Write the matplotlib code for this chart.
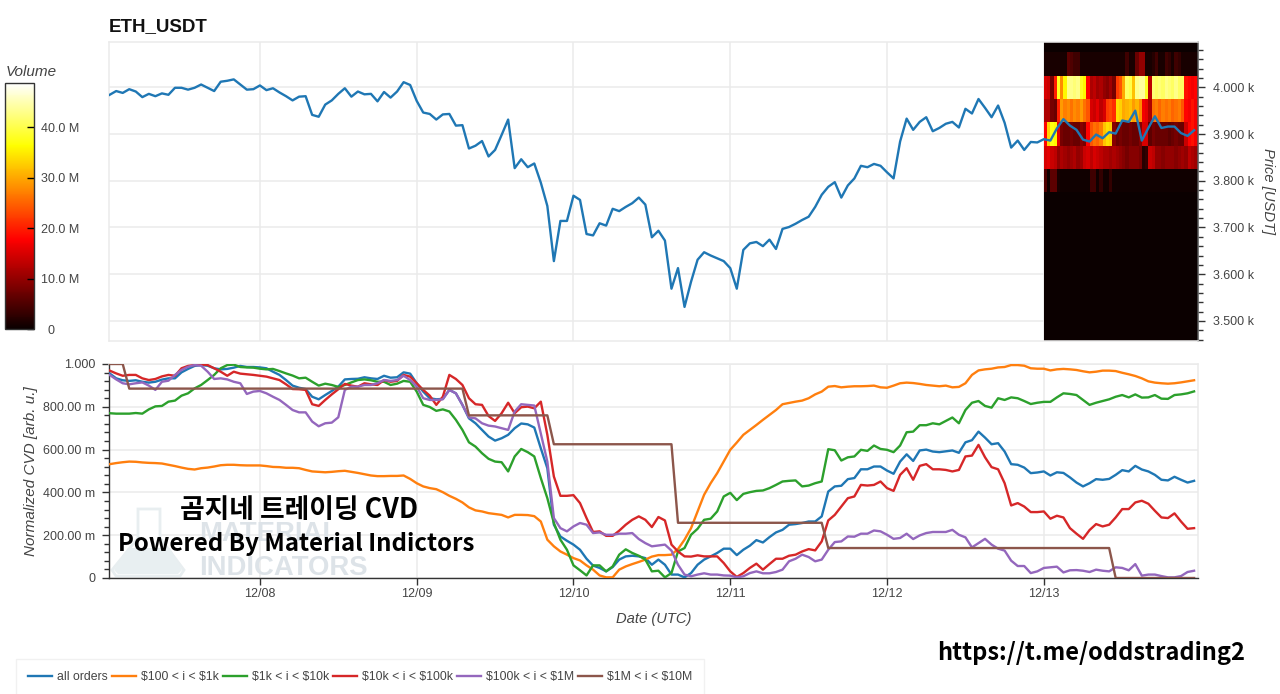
import numpy as np
import pandas as pd
import matplotlib
matplotlib.use('Agg')
import matplotlib.pyplot as plt
import matplotlib.dates as mdates
from matplotlib.patches import Polygon
from matplotlib.ticker import FixedLocator, FuncFormatter, MultipleLocator

plt.rcParams['font.family'] = ['Liberation Sans', 'DejaVu Sans']

# hourly samples, first one is 12/07 01:00
start = '2021-12-07 01:00'

price = [3984, 3992, 3988, 3996, 3991, 3979, 3986, 3981, 3987, 3984, 3999, 3999, 3995, 3999, 4006, 3999, 3992, 4012,
         4014, 4017, 4006, 3995, 3996, 4004, 3994, 3998, 3989, 3981, 3972, 3980, 3981, 3941, 3937, 3963, 3972, 3986,
         3998, 3980, 3991, 3985, 3986, 3970, 3990, 3978, 3991, 4011, 4005, 3971, 3946, 3943, 3931, 3942, 3943, 3918,
         3919, 3869, 3875, 3885, 3852, 3866, 3898, 3931, 3827, 3846, 3829, 3837, 3796, 3746, 3628, 3714, 3714,
         3768, 3759, 3686, 3683, 3709, 3704, 3740, 3735, 3744, 3752, 3764, 3749, 3679, 3693, 3672, 3569, 3613, 3530,
         3584, 3631, 3647, 3640, 3634, 3628, 3613, 3569, 3652, 3666, 3669, 3660, 3674, 3654, 3697, 3701, 3708, 3716,
         3723, 3744, 3770, 3787, 3797, 3764, 3790, 3805, 3832, 3829, 3836, 3832, 3818, 3805, 3884, 3933, 3909, 3926,
         3936, 3906, 3913, 3922, 3926, 3914, 3954, 3944, 3975, 3956, 3936, 3961, 3924, 3871, 3886, 3866, 3883, 3882,
         3889, 3886, 3912, 3932, 3918, 3909, 3888, 3884, 3899, 3891, 3904, 3901, 3929, 3926, 3950, 3886, 3913, 3938,
         3913, 3916, 3916, 3902, 3896, 3908]

all_orders = [.956, .933, .924, .921, .924, .917, .913, .917, .927, .933, .933, .961, .977, .991, .995, .992, .980,
              .975, .977, .983, .991, .986, .986, .984, .980, .964, .949, .925, .899, .889, .883, .847, .835, .855,
              .874, .894, .928, .930, .931, .938, .933, .930, .945, .936, .938, .961, .955, .910, .871, .840, .835,
              .837, .879, .863, .809, .746, .723, .692, .661, .642, .653, .669, .700, .722, .718, .703, .606, .513,
              .249, .194, .174, .156, .132, .090, .058, .047, .031, .051, .086, .101, .104, .101, .093, .062, .086,
              .062, .016, .016, .003, .023, .062, .086, .101, .117, .137, .137, .107, .132, .151, .177, .166, .191,
              .213, .225, .249, .252, .257, .264, .264, .288, .404, .428, .431, .462, .467, .508, .508, .521, .521,
              .502, .487, .544, .578, .547, .596, .600, .591, .588, .592, .596, .585, .634, .644, .684, .656, .625,
              .630, .591, .532, .529, .516, .490, .493, .498, .479, .494, .491, .470, .446, .428, .443, .462, .459,
              .463, .482, .504, .498, .524, .507, .498, .482, .459, .456, .473, .459, .446, .454]

tier_100_1k = [.532, .537, .541, .544, .543, .540, .538, .537, .535, .529, .523, .516, .510, .507, .513, .516, .521,
               .527, .529, .529, .527, .526, .526, .526, .523, .519, .518, .515, .515, .513, .505, .498, .496, .494,
               .496, .499, .501, .496, .491, .485, .479, .476, .476, .477, .477, .479, .463, .443, .428, .420, .415,
               .401, .384, .370, .353, .330, .316, .311, .303, .299, .295, .283, .295, .295, .294, .289, .264, .179,
               .148, .124, .109, .093, .082, .059, .039, .012, .003, .003, .039, .054, .065, .075, .086, .100, .107,
               .107, .109, .135, .179, .233, .311, .389, .443, .490, .544, .599, .633, .669, .692, .715, .739, .762,
               .785, .812, .818, .824, .829, .840, .858, .871, .894, .897, .891, .894, .896, .896, .897, .899, .891,
               .889, .899, .910, .913, .911, .907, .902, .899, .896, .899, .891, .893, .910, .949, .970, .975, .978,
               .984, .986, .995, .995, .992, .980, .978, .978, .970, .975, .977, .975, .972, .966, .961, .964, .969,
               .969, .967, .959, .952, .944, .933, .919, .913, .910, .908, .910, .914, .919, .924]

tier_1k_10k = [.770, .768, .768, .768, .771, .768, .788, .802, .804, .824, .829, .852, .863, .886, .902, .925, .949,
               .980, .995, .997, .986, .984, .983, .978, .975, .977, .967, .956, .946, .933, .936, .917, .899, .908,
               .902, .893, .902, .914, .925, .928, .924, .917, .917, .902, .908, .921, .917, .871, .809, .799, .781,
               .788, .778, .739, .692, .634, .614, .583, .557, .544, .541, .498, .568, .603, .588, .568, .467, .373,
               .257, .179, .132, .059, .036, .012, .059, .059, .031, .054, .109, .134, .117, .104, .086, .031, .034,
               .003, .023, .124, .140, .202, .230, .272, .277, .311, .381, .398, .364, .393, .401, .407, .409, .420,
               .435, .451, .454, .456, .428, .432, .443, .451, .602, .597, .549, .564, .568, .599, .594, .619, .603,
               .599, .588, .619, .681, .684, .714, .714, .723, .718, .734, .750, .723, .785, .819, .827, .804, .796,
               .840, .832, .844, .840, .827, .813, .819, .823, .823, .844, .863, .860, .855, .832, .809, .819, .827,
               .835, .847, .855, .844, .858, .843, .844, .855, .838, .837, .855, .858, .863, .872]

tier_10k_100k = [.969, .956, .945, .949, .949, .933, .925, .930, .942, .949, .945, .980, .991, .995, .998, .995, .980,
                 .964, .945, .964, .955, .952, .949, .945, .941, .933, .925, .905, .883, .882, .879, .812, .804, .832,
                 .858, .882, .907, .899, .894, .910, .905, .902, .925, .917, .921, .949, .941, .910, .879, .852, .809,
                 .847, .949, .930, .902, .840, .812, .809, .757, .734, .770, .819, .770, .798, .801, .793, .824, .669,
                 .474, .384, .384, .387, .350, .280, .215, .218, .197, .197, .221, .249, .272, .288, .272, .238, .285,
                 .269, .156, .124, .101, .100, .106, .101, .101, .101, .070, .031, .005, .023, .047, .067, .039, .065,
                 .090, .090, .104, .109, .124, .135, .129, .171, .269, .295, .334, .373, .381, .435, .432, .435, .451,
                 .420, .407, .482, .513, .459, .524, .532, .508, .508, .505, .498, .505, .568, .572, .622, .564, .518,
                 .508, .443, .339, .350, .334, .308, .308, .311, .277, .291, .283, .233, .207, .183, .224, .252, .241,
                 .249, .283, .322, .322, .353, .361, .347, .314, .283, .280, .302, .264, .230, .233]

tier_100k_1m = [.949, .928, .910, .905, .910, .914, .899, .879, .917, .922, .949, .972, .987, .995, .992, .964, .930,
                .933, .928, .917, .910, .860, .871, .874, .863, .847, .832, .809, .785, .774, .774, .731, .709, .723,
                .726, .751, .879, .894, .894, .902, .902, .910, .925, .921, .925, .945, .925, .894, .840, .832, .832,
                .835, .879, .863, .809, .750, .746, .723, .712, .708, .700, .692, .778, .812, .809, .806, .676, .544,
                .280, .233, .218, .241, .257, .249, .210, .213, .202, .202, .207, .207, .210, .182, .163, .148, .152,
                .156, .128, .062, .016, .008, .016, .022, .016, .016, .012, .011, .003, .008, .023, .031, .022, .022,
                .028, .039, .078, .090, .109, .098, .078, .086, .132, .168, .171, .194, .193, .207, .207, .222, .218,
                .202, .183, .187, .207, .182, .199, .210, .215, .215, .215, .225, .202, .190, .143, .163, .183, .156,
                .137, .128, .081, .056, .056, .023, .031, .047, .050, .053, .026, .036, .037, .034, .028, .039, .034,
                .031, .050, .047, .036, .065, .011, .016, .016, .009, .003, .003, .009, .028, .034]

# this tier moves in steps: hours since the start and the level at each corner
tier_1m_10m_hours = [0, 2, 3, 54, 55, 67, 68, 86, 87, 109, 110, 153, 154, 166]
tier_1m_10m = [1.0, 1.0, .885, .885, .76, .76, .625, .625, .258, .258, .14, .14, 0.0, 0.0]

series_labels = ['all orders', r'\$100 < i < \$1k', r'\$1k < i < \$10k', r'\$10k < i < \$100k',
                 r'\$100k < i < \$1M', r'\$1M < i < \$10M']
series_colors = ['#1f77b4', '#ff7f0e', '#2ca02c', '#d62728', '#9467bd', '#8c564b']

# order book volume in M, half hour columns from 12/13 00:00, 50 USDT price bins
vol_4050 = [1, 1, 1, 1, 1, 1, 1, 6, 5, 4, 4, 1, 1, 1, 1, 1, 1, 1, 1, 1, 1, 1, 1, 1, 1, 4, 1, 1, 7, 10, 10, 1, 1, 2, 4, 1,
            1, 4, 3, 1, 4, 3, 1, 1, 1, 1, 1, 1]
vol_4000 = [15, 14, 8, 20, 38, 28, 36, 43, 43, 42, 43, 38, 36, 18, 12, 13, 11, 12, 10, 9, 11, 8, 22, 24, 30, 41, 40, 32,
            43, 44, 44, 38, 13, 42, 41, 42, 41, 43, 42, 41, 43, 41, 41, 19, 18, 17, 18, 16]
vol_3950 = [12, 12, 8, 7, 20, 29, 27, 28, 26, 28, 27, 29, 26, 24, 15, 14, 16, 13, 15, 22, 23, 21, 34, 33, 30, 31, 32, 29,
            31, 28, 17, 16, 12, 26, 27, 25, 27, 26, 27, 25, 26, 27, 24, 18, 17, 19, 17, 18]
vol_3900 = [18, 33, 37, 36, 16, 8, 7, 7, 8, 7, 7, 9, 8, 18, 24, 26, 25, 27, 32, 34, 33, 9, 7, 8, 7, 7, 8, 7,
            7, 9, 15, 15, 6, 8, 7, 7, 7, 7, 6, 7, 8, 7, 7, 14, 18, 19, 17, 18]
vol_3850 = [15, 16, 14, 13, 10, 12, 11, 10, 11, 12, 10, 11, 14, 15, 13, 15, 14, 13, 12, 12, 11, 12, 11, 10, 9, 8, 9,
            9, 9, 8, 2, 3, 14, 13, 10, 10, 9, 10, 10, 10, 9, 10, 11, 10, 13, 12, 11, 12]
vol_3800 = [5, .5, 6, 6, 1, .5, .5, .5, .5, .5, .5, .5, .5, .5, 4, 4, .5, 3, .5, .5, 3, .5, .5, .5, .5, .5, .5, .5, .5, .5,
            .5, .5, .5, .5, .5, .5, .5, .5, .5, .5, .5, .5, .5, .5, .5, .5, .5, .5]
price_bin_edges = np.arange(3425, 4126, 50)
volume_ticks = [0, 10e6, 20e6, 30e6, 40e6]
volume_labels = ['  0', '10.0 M', '20.0 M', '30.0 M', '40.0 M']

W, H = 1280, 694
TEXT = '#444444'
GRID = '#ebebeb'


def box(x0, y0, x1, y1):
    # pixel box from the top left corner -> figure fractions
    return [x0 / W, 1 - y1 / H, (x1 - x0) / W, (y1 - y0) / H]


def hours(values):
    return pd.date_range(start, periods=len(values), freq='h')


fig = plt.figure(figsize=(W / 100, H / 100), dpi=100)
ax_price = fig.add_axes(box(109, 42, 1198, 341))
ax_cvd = fig.add_axes(box(109, 364, 1198, 578))
cax = fig.add_axes(box(5, 83, 34, 329))

# heatmap
rows = [np.zeros(48) for _ in range(7)]
rows += [vol_3800, vol_3850, vol_3900, vol_3950, vol_4000, vol_4050, np.zeros(48)]
rows = np.array(rows) * 1e6
col_edges = pd.date_range('2021-12-13 00:00', periods=49, freq='30min').to_numpy()
mesh = ax_price.pcolormesh(col_edges, price_bin_edges, rows, cmap='hot', vmin=0, vmax=48.8e6, zorder=2)

ax_price.plot(hours(price), price, color='#1f77b4', lw=1.7, zorder=3)
ax_price.set_ylim(3457, 4097)
ax_price.yaxis.tick_right()
ax_price.yaxis.set_label_position('right')
ax_price.yaxis.set_major_locator(MultipleLocator(100))
ax_price.yaxis.set_minor_locator(MultipleLocator(20))
ax_price.yaxis.set_major_formatter(FuncFormatter(lambda v, p: f'{v / 1000:.3f} k'))
ax_price.set_ylabel('Price [USDT]', style='italic', color=TEXT, fontsize=10.6, rotation=270, labelpad=15)
fig.text(109 / W, 1 - 27 / H, 'ETH_USDT', fontsize=13.5, fontweight='bold', color='#111111', va='center')

# lower panel
cvd_series = [all_orders, tier_100_1k, tier_1k_10k, tier_10k_100k, tier_100k_1m]
for vals, lab, col in zip(cvd_series, series_labels, series_colors):
    ax_cvd.plot(hours(vals), vals, color=col, lw=1.7, label=lab, zorder=3)
step_x = pd.Timestamp(start) + pd.to_timedelta(tier_1m_10m_hours, unit='h')
ax_cvd.plot(step_x, tier_1m_10m, color=series_colors[5], lw=1.7, label=series_labels[5], zorder=3)
ax_cvd.set_ylim(0, 1)
ax_cvd.yaxis.set_major_locator(FixedLocator([0, .2, .4, .6, .8, 1.0]))
ax_cvd.yaxis.set_minor_locator(MultipleLocator(.04))
ax_cvd.set_yticklabels(['0', '200.00 m', '400.00 m', '600.00 m', '800.00 m', '1.000'])
ax_cvd.set_ylabel('Normalized CVD [arb. u.]', style='italic', color=TEXT, fontsize=11, labelpad=3.5)
ax_cvd.set_xlabel('Date (UTC)', style='italic', color=TEXT, fontsize=10.6, labelpad=9)

for ax in (ax_price, ax_cvd):
    ax.set_xlim(pd.Timestamp('2021-12-07 00:54'), pd.Timestamp('2021-12-13 23:36'))
    ax.xaxis.set_major_locator(mdates.DayLocator())
    ax.xaxis.set_major_formatter(mdates.DateFormatter('%m/%d'))
    ax.grid(True, which='major', color=GRID, lw=1.1, zorder=0)
    ax.set_axisbelow(True)
    for s in ax.spines.values():
        s.set_color(GRID)
        s.set_linewidth(1.1)
    ax.tick_params(axis='both', which='major', labelsize=9, labelcolor=TEXT, length=5, width=1, color='#333333')
    ax.tick_params(axis='y', which='minor', length=3.5, width=1, color='#333333')

ax_price.tick_params(axis='x', which='both', bottom=False, labelbottom=False)
ax_price.tick_params(axis='y', which='major', pad=6)
ax_price.spines['right'].set_color('#555555')
ax_cvd.spines['left'].set_color('#333333')
ax_cvd.spines['bottom'].set_color('#333333')
ax_cvd.spines['left'].set_linewidth(1)
ax_cvd.spines['bottom'].set_linewidth(1)
ax_cvd.tick_params(axis='x', which='major', pad=2)
ax_cvd.tick_params(axis='y', which='major', pad=5)

# watermark, sits under the lines
flask_shape = [(138, 509), (160, 509), (160, 538), (184, 570), (180, 576), (116, 576), (112, 570), (138, 538)]
liquid_shape = [(128, 548), (170, 548), (182, 570), (178, 574), (118, 574), (114, 570)]
for shape, face, edge in [(flask_shape, 'white', '#e8eef0'), (liquid_shape, '#e8eff1', 'none')]:
    ax_cvd.add_patch(Polygon([(x / W, 1 - y / H) for x, y in shape], closed=True, transform=fig.transFigure,
                             facecolor=face, edgecolor=edge, lw=2, zorder=1))
for y, word in [(541, 'MATERIAL'), (575, 'INDICATORS')]:
    ax_cvd.text(199 / W, 1 - y / H, word, transform=fig.transFigure, fontweight='bold', fontsize=19.8,
                color='#dde3e8', zorder=1)

cjk = ['Noto Sans CJK KR', 'DejaVu Sans']
fig.text(299 / W, 1 - 510 / H, '곰지네 트레이딩 CVD', family=cjk, fontsize=19.3, fontweight='bold', color='black',
         ha='center', va='center', zorder=5)
fig.text(296 / W, 1 - 544 / H, 'Powered By Material Indictors', family=cjk, fontsize=17.3, fontweight='bold',
         color='black', ha='center', va='center', zorder=5)
fig.text(1091 / W, 1 - 653 / H, 'https://t.me/oddstrading2', family=cjk, fontsize=17, fontweight='bold',
         color='black', ha='center', va='center', zorder=5)

# colorbar
cb = fig.colorbar(mesh, cax=cax)
cb.set_ticks(volume_ticks)
cb.set_ticklabels(volume_labels)
cb.ax.tick_params(direction='in', length=5, width=1, labelsize=9, labelcolor=TEXT, color='black', pad=5)
cb.outline.set_edgecolor('#333333')
cb.outline.set_linewidth(1)
fig.text(6 / W, 1 - 72 / H, 'Volume', style='italic', fontsize=11, color=TEXT, va='center')

# legend, the box runs off the bottom of the picture
handles, labels = ax_cvd.get_legend_handles_labels()
leg = fig.legend(handles, labels, ncols=6, loc='upper left', bbox_to_anchor=(16 / W, 1 - 659 / H), fontsize=8.8,
                 frameon=True, fancybox=False, edgecolor='#eeeeee', borderpad=1.0, borderaxespad=0,
                 handlelength=1.95, handletextpad=0.4, columnspacing=0.35, labelcolor=TEXT)
leg.get_frame().set_linewidth(1)

fig.savefig('out.png', dpi=100)
